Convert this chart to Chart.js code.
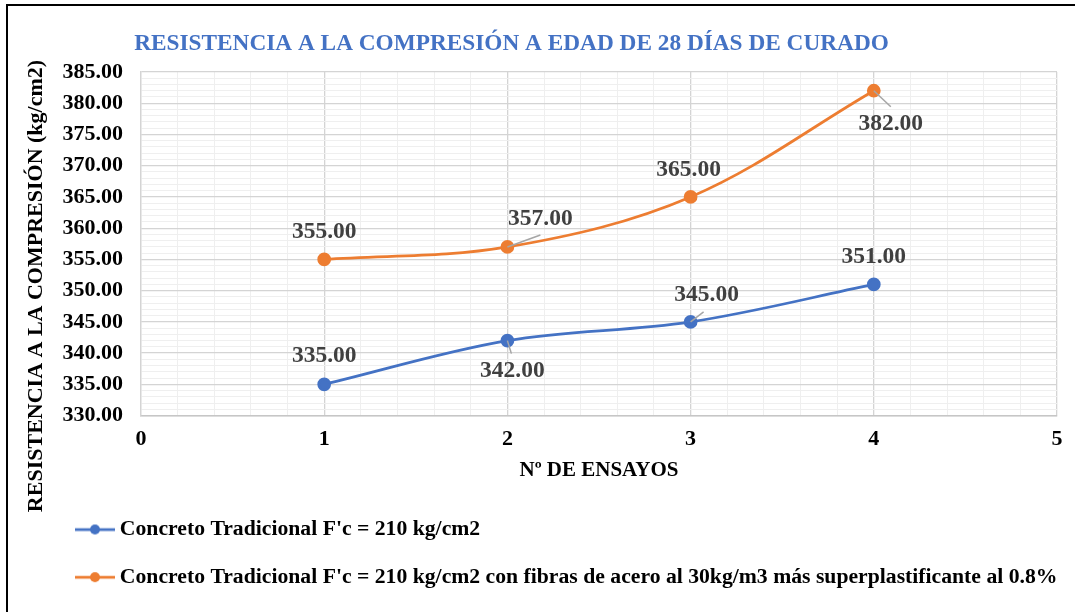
<!DOCTYPE html>
<html><head><meta charset="utf-8">
<script src="https://cdn.jsdelivr.net/npm/chart.js@4.4.0/dist/chart.umd.min.js"></script>
<style>
html,body{margin:0;padding:0;background:#fff;overflow:hidden;width:1075px;height:612px;}
#wrap{position:relative;width:1075px;height:612px;overflow:hidden;}
#frame{position:absolute;left:6px;top:4px;width:1200px;height:800px;border:2px solid #000;box-sizing:border-box;pointer-events:none;}
canvas{position:absolute;left:0;top:0;}
</style></head><body>
<div id="wrap"><canvas id="c" width="1075" height="612"></canvas><div id="frame"></div></div>
<script>
const chartTitle = 'RESISTENCIA A LA COMPRESIÓN A EDAD DE 28 DÍAS DE CURADO';
const xAxisTitle = 'Nº DE ENSAYOS';
const yAxisTitle = 'RESISTENCIA A LA COMPRESIÓN (kg/cm2)';
const ensayos = [1, 2, 3, 4];
const seriesNames = [
  "Concreto Tradicional F'c = 210 kg/cm2",
  "Concreto Tradicional F'c = 210 kg/cm2 con fibras de acero al 30kg/m3 más superplastificante al 0.8%"
];
const tradicional = [335, 342, 345, 351];
const conFibras = [355, 357, 365, 382];
const yMin = 330, yMax = 385, yMajorStep = 5, yMinorStep = 1;
const xMin = 0, xMax = 5, xMinorStep = 0.2;

const BLUE = '#4472C4', ORANGE = '#ED7D31';
const SERIF = '"Liberation Serif", "Times New Roman", serif';

// label placement (offsets from the point, in px) and leader line ends
const labelPlacement = [
  [{dx:0,dy:-28},{dx:5,dy:30,lx:4,ly:13},{dx:16,dy:-27,lx:13,ly:-10},{dx:0,dy:-27}],
  [{dx:0,dy:-27},{dx:33,dy:-28,lx:33,ly:-12},{dx:-2,dy:-27},{dx:17,dy:33,lx:17,ly:16}]
];

function makeMarker(color){
  const c = document.createElement('canvas');
  c.width = 40; c.height = 12;
  const g = c.getContext('2d');
  g.strokeStyle = color; g.lineWidth = 2.75;
  g.beginPath(); g.moveTo(0,6); g.lineTo(40,6); g.stroke();
  g.fillStyle = color;
  g.beginPath(); g.arc(20,6,5,0,Math.PI*2); g.fill();
  return c;
}

const textPlugin = {
  id: 'textPlugin',
  afterDatasetsDraw(chart){
    const ctx = chart.ctx;
    ctx.save();
    chart.data.datasets.forEach((ds, di) => {
      const meta = chart.getDatasetMeta(di);
      meta.data.forEach((pt, i) => {
        const p = labelPlacement[di][i];
        if (p.lx !== undefined) {
          ctx.strokeStyle = '#a6a6a6'; ctx.lineWidth = 1.5;
          ctx.beginPath(); ctx.moveTo(pt.x, pt.y); ctx.lineTo(pt.x + p.lx, pt.y + p.ly); ctx.stroke();
        }
        ctx.font = 'bold 23.5px ' + SERIF;
        ctx.fillStyle = '#404040';
        ctx.textAlign = 'center'; ctx.textBaseline = 'middle';
        ctx.fillText(ds.data[i].y.toFixed(2), pt.x + p.dx, pt.y + p.dy);
      });
    });
    ctx.restore();
  },
  afterDraw(chart){
    const ctx = chart.ctx;
    ctx.save();
    ctx.font = 'bold 23.3px ' + SERIF;
    ctx.fillStyle = BLUE;
    ctx.textAlign = 'center'; ctx.textBaseline = 'alphabetic';
    ctx.fillText(chartTitle, 511.5, 50);
    ctx.translate(42, 286);
    ctx.rotate(-Math.PI/2);
    ctx.font = 'bold 22px ' + SERIF;
    ctx.fillStyle = '#000';
    ctx.fillText(yAxisTitle, 0, 0);
    ctx.restore();
  }
};

const bgPlugin = {
  id: 'bg',
  beforeDraw(chart){
    const ctx = chart.ctx;
    ctx.save(); ctx.fillStyle = '#fff'; ctx.fillRect(0,0,chart.width,chart.height); ctx.restore();
  }
};

const isInt = v => Math.abs(v - Math.round(v)) < 1e-6;
const isMajorY = v => isInt(v) && Math.round(v) % yMajorStep === 0;

new Chart(document.getElementById('c'), {
  type: 'line',
  data: {
    datasets: [
      {
        label: seriesNames[0],
        data: ensayos.map((x, i) => ({x, y: tradicional[i]})),
        borderColor: BLUE, backgroundColor: BLUE,
        borderWidth: 2.75, pointRadius: 5.5, pointBackgroundColor: BLUE, pointBorderColor: BLUE,
        tension: 0.35, fill: false
      },
      {
        label: seriesNames[1],
        data: ensayos.map((x, i) => ({x, y: conFibras[i]})),
        borderColor: ORANGE, backgroundColor: ORANGE,
        borderWidth: 2.75, pointRadius: 5.5, pointBackgroundColor: ORANGE, pointBorderColor: ORANGE,
        tension: 0.35, fill: false
      }
    ]
  },
  options: {
    responsive: false,
    animation: false,
    devicePixelRatio: 1,
    layout: { padding: { left: 55, right: 18, top: 72, bottom: 14 } },
    plugins: {
      title: { display: false },
      tooltip: { enabled: false },
      legend: {
        position: 'bottom', align: 'start',
        labels: {
          usePointStyle: true, pointStyleWidth: 28, padding: 26,
          color: '#000',
          font: { family: SERIF, size: 21.7, weight: 'bold' },
          generateLabels(chart){
            return chart.data.datasets.map((ds, i) => ({
              text: ds.label, pointStyle: makeMarker(ds.borderColor),
              fillStyle: ds.borderColor, strokeStyle: ds.borderColor, lineWidth: 0,
              hidden: false, datasetIndex: i
            }));
          }
        }
      }
    },
    scales: {
      x: {
        type: 'linear', min: xMin, max: xMax,
        afterFit(s){ s.height = 77; },
        ticks: {
          stepSize: xMinorStep, maxTicksLimit: 200, autoSkip: false, maxRotation: 0, padding: 11,
          color: '#000', font: { family: SERIF, size: 22, weight: 'bold' },
          callback: v => isInt(v) ? String(Math.round(v)) : ''
        },
        grid: {
          drawTicks: false,
          color: c => (c.tick && isInt(c.tick.value)) ? '#d4d4d4' : '#efefef',
          lineWidth: c => (c.tick && isInt(c.tick.value)) ? 1.3 : 1
        },
        border: { color: '#c6c6c6', width: 1.5 },
        title: {
          display: true, text: xAxisTitle, color: '#000',
          font: { family: SERIF, size: 21, weight: 'bold' },
          padding: { top: 0, bottom: 9 }
        }
      },
      y: {
        type: 'linear', min: yMin, max: yMax,
        afterFit(s){ s.width = 86; },
        ticks: {
          stepSize: yMinorStep, maxTicksLimit: 200, autoSkip: false, padding: 18,
          color: '#000', font: { family: SERIF, size: 22, weight: 'bold' },
          callback: v => isMajorY(v) ? Number(v).toFixed(2) : ''
        },
        grid: {
          drawTicks: false,
          color: c => (c.tick && isMajorY(c.tick.value)) ? '#d4d4d4' : '#efefef',
          lineWidth: c => (c.tick && isMajorY(c.tick.value)) ? 1.3 : 1
        },
        border: { color: '#d4d4d4', width: 1.3 },
        title: { display: false }
      }
    }
  },
  plugins: [bgPlugin, textPlugin]
});
</script>
</body></html>
